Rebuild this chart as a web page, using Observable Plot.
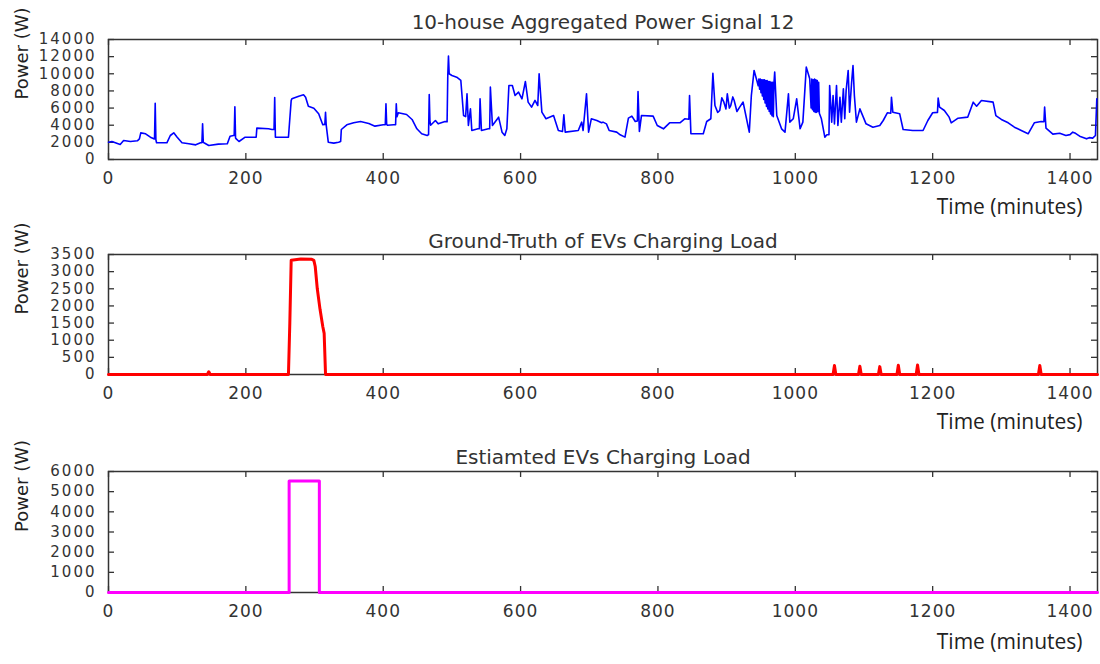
<!DOCTYPE html>
<html><head><meta charset="utf-8">
<script src="https://cdn.jsdelivr.net/npm/d3@7"></script>
<script src="https://cdn.jsdelivr.net/npm/@observablehq/plot@0.6"></script>
<style>
body{margin:0;background:#fff;}
#chart svg{display:block;}
#chart g[aria-label="y-axis tick label"] text{letter-spacing:2px;}
#chart g[aria-label="x-axis tick label"] text{letter-spacing:1px;}
</style>
</head><body><div id="chart"></div>
<script>
// ---- data ----
const xTicks = [0, 200, 400, 600, 800, 1000, 1200, 1400];
const aggYTicks = [0, 2000, 4000, 6000, 8000, 10000, 12000, 14000];
const gtYTicks = [0, 500, 1000, 1500, 2000, 2500, 3000, 3500];
const estYTicks = [0, 1000, 2000, 3000, 4000, 5000, 6000];

const titles = ["10-house Aggregated Power Signal 12", "Ground-Truth of EVs Charging Load", "Estiamted EVs Charging Load"];
const xLabel = "Time (minutes)";
const yLabel = "Power (W)";

// Aggregated power signal (minutes, W)
const aggTime = [0,5,10,17,22,32,42,45,47,54,61,66,67,68,69,70,85,90,95,100,107,117,127,134,136,137,138,139,146,160,173,177,182,183,184,185,186,190,199,211,215,216,233,238,241,242,243,253,262,266,267,277,284,287,291,299,306,312,315,316,317,320,328,335,338,339,347,357,367,379,388,400,403,404,405,406,415,418,419,420,422,434,442,449,456,464,466,467,468,469,476,480,490,493,494,495,496,500,507,513,517,520,522,524,527,529,538,540,541,543,553,555,556,559,568,573,577,580,583,588,592,597,602,607,611,616,621,625,627,631,637,648,655,661,663,665,684,689,691,696,699,703,711,718,720,725,729,740,745,752,757,762,767,770,771,773,776,793,799,808,817,832,839,845,846,848,866,871,877,880,883,887,890,893,896,899,901,904,906,909,911,915,919,924,928,933,936,940,944,946,947,948,949,950,951,952,953,954,955,956,957,958,959,960,961,962,963,964,965,966,967,968,969,970,973,980,985,990,992,997,1002,1007,1011,1016,1021,1023,1024,1025,1026,1027,1028,1029,1030,1031,1032,1033,1034,1035,1038,1043,1046,1049,1050,1053,1055,1057,1060,1062,1065,1067,1070,1072,1074,1077,1079,1082,1084,1086,1089,1094,1099,1103,1113,1123,1128,1134,1139,1140,1142,1152,1157,1171,1186,1193,1200,1207,1208,1210,1217,1224,1227,1237,1251,1259,1264,1271,1288,1292,1300,1310,1319,1329,1339,1348,1358,1362,1363,1365,1375,1385,1394,1400,1404,1408,1414,1418,1424,1428,1433,1437,1439];
const aggPower = [2020,2100,1950,1750,2220,2100,2180,2400,3110,3000,2600,2410,2400,6570,2300,1950,1950,2800,3110,2600,1950,1830,1710,1950,1950,4160,2000,1950,1630,1790,1830,2720,2800,2800,6150,2500,2400,2100,2600,2600,2600,3660,3580,3500,3500,7240,2600,2600,2600,6900,7080,7390,7550,7270,6220,5990,5330,4050,4100,5520,4000,2020,1910,2020,2100,3500,4050,4280,4430,4200,3890,4050,4050,6500,4100,4000,4050,4050,6500,5000,5450,5250,4670,3580,3000,2800,2900,7590,4500,4000,4550,4160,4430,4400,9800,12060,10000,9800,9600,9220,5130,5000,7660,3970,5910,3380,3580,3600,7080,3380,3580,3600,8440,3970,4940,3190,2800,3580,8640,8640,7470,7860,7080,9100,6690,6110,6890,6300,10000,5520,4750,5130,3380,3270,5210,3190,3380,4360,3380,7660,3190,4750,4550,4280,4360,4160,3380,3190,2880,2610,4820,5060,4430,4500,7940,3270,5130,5060,3970,3580,4280,4280,4750,4700,7470,3000,3000,4430,4750,10070,6300,5500,5720,7200,6690,5900,7660,6000,6300,7300,6890,5600,6110,6700,5130,3190,7470,10390,9220,8600,9400,8200,9400,7800,9300,7400,9300,7000,9300,6600,9200,6200,9200,5900,9100,5600,9100,5300,9000,5100,9000,5000,9000,10200,5130,3580,3190,7660,4360,4750,7080,3580,4360,10780,9410,6000,9400,5800,9300,5600,9400,5500,9300,5500,9200,5600,9000,5400,4750,2610,2880,2900,8640,4360,7470,4160,8640,3970,7270,4360,8250,4750,8050,10390,5520,9020,10970,7470,4360,5910,4940,4160,3770,3970,4550,5450,5400,7270,5520,5330,3500,3380,3380,4550,5450,5500,7160,6110,5720,4940,4280,4820,4940,6690,6220,6890,6690,5130,4670,4280,3770,3380,3000,4280,4430,4400,6110,3660,2960,3070,2800,2900,3190,3050,2720,2600,2410,2550,2490,2800,7080];

// Ground-truth EV charging load
const gtTime = [0,144,146,148,260,262,264,266,280,296,299,301,304,308,312,314,315,316,1055,1057,1059,1092,1094,1096,1121,1123,1125,1148,1150,1152,1176,1178,1180,1354,1356,1358,1440];
const gtPower = [0,0,80,0,0,0,1500,3330,3370,3360,3330,3150,2500,1900,1400,1200,600,0,0,260,0,0,240,0,0,230,0,0,270,0,0,280,0,0,260,0,0];

// Estimated EV charging load (step, value held until next time)
const estTime = [0, 263, 307, 1440];
const estPower = [0, 5530, 0, 0];

// ---- build ----
const toRows = (ts, ws) => ts.map((t, i) => ({t, w: ws[i]}));
const aggData = toRows(aggTime, aggPower);
const gtData = toRows(gtTime, gtPower);
const estData = toRows(estTime, estPower);

const W = 1100, ML = 108, MR = 3;
const ink = "#333";
const fmt = d3.format("d");

function panel(o) {
  const fw = W - ML - MR;
  const fh = o.height - o.marginTop - o.marginBottom;
  return Plot.plot({
    width: W, height: o.height,
    marginLeft: ML, marginRight: MR, marginTop: o.marginTop, marginBottom: o.marginBottom,
    style: {fontFamily: "DejaVu Sans", fontSize: "17px", color: ink, background: "#fff", overflow: "visible"},
    x: {domain: [0, 1440], label: null},
    y: {domain: o.yDomain, label: null},
    marks: [
      Plot.axisX({ticks: xTicks, tickFormat: fmt, tickSize: 0, tickPadding: 12, label: null, fontSize: 17}),
      Plot.axisY({ticks: o.yTicks, tickFormat: fmt, tickSize: 0, tickPadding: 12, label: null, fontSize: 15}),
      Plot.frame({stroke: ink, strokeWidth: 1.5}),
      Plot.tickX(xTicks, {x: d => d, insetTop: fh - 6, stroke: ink, strokeWidth: 1.3}),
      Plot.tickX(xTicks, {x: d => d, insetBottom: fh - 6, stroke: ink, strokeWidth: 1.3}),
      Plot.tickY(o.yTicks, {y: d => d, insetRight: fw - 6, stroke: ink, strokeWidth: 1.3}),
      Plot.tickY(o.yTicks, {y: d => d, insetLeft: fw - 6, stroke: ink, strokeWidth: 1.3}),
      Plot.line(o.data, {x: "t", y: "w", stroke: o.color, strokeWidth: o.sw, curve: o.curve || "linear"}),
      Plot.text([o.title], {frameAnchor: "top", dy: o.titleDy, fontSize: 20, fill: ink}),
      Plot.text([yLabel], {frameAnchor: "left", dx: -86, rotate: -90, fontSize: 18, fill: "#222"}),
      Plot.text([xLabel], {frameAnchor: "bottom-right", dx: -15, dy: o.xLabelDy, textAnchor: "end", fontFamily: "Open Sans", fontSize: 21, fill: "#222"})
    ]
  });
}

const root = document.getElementById("chart");
root.append(panel({data: aggData, color: "#0000ff", sw: 1.6, yDomain: [0, 14000], yTicks: aggYTicks, title: titles[0], titleDy: -25, height: 217, marginTop: 39, marginBottom: 58, xLabelDy: 54}));
root.append(panel({data: gtData, color: "#ff0000", sw: 3, yDomain: [0, 3500], yTicks: gtYTicks, title: titles[1], titleDy: -21, height: 217, marginTop: 37, marginBottom: 60, xLabelDy: 54}));
root.append(panel({data: estData, color: "#ff00ff", sw: 3, yDomain: [0, 6000], yTicks: estYTicks, title: titles[2], titleDy: -22, height: 230, marginTop: 37, marginBottom: 72, xLabelDy: 56, curve: "step-after"}));
</script>
</body></html>
